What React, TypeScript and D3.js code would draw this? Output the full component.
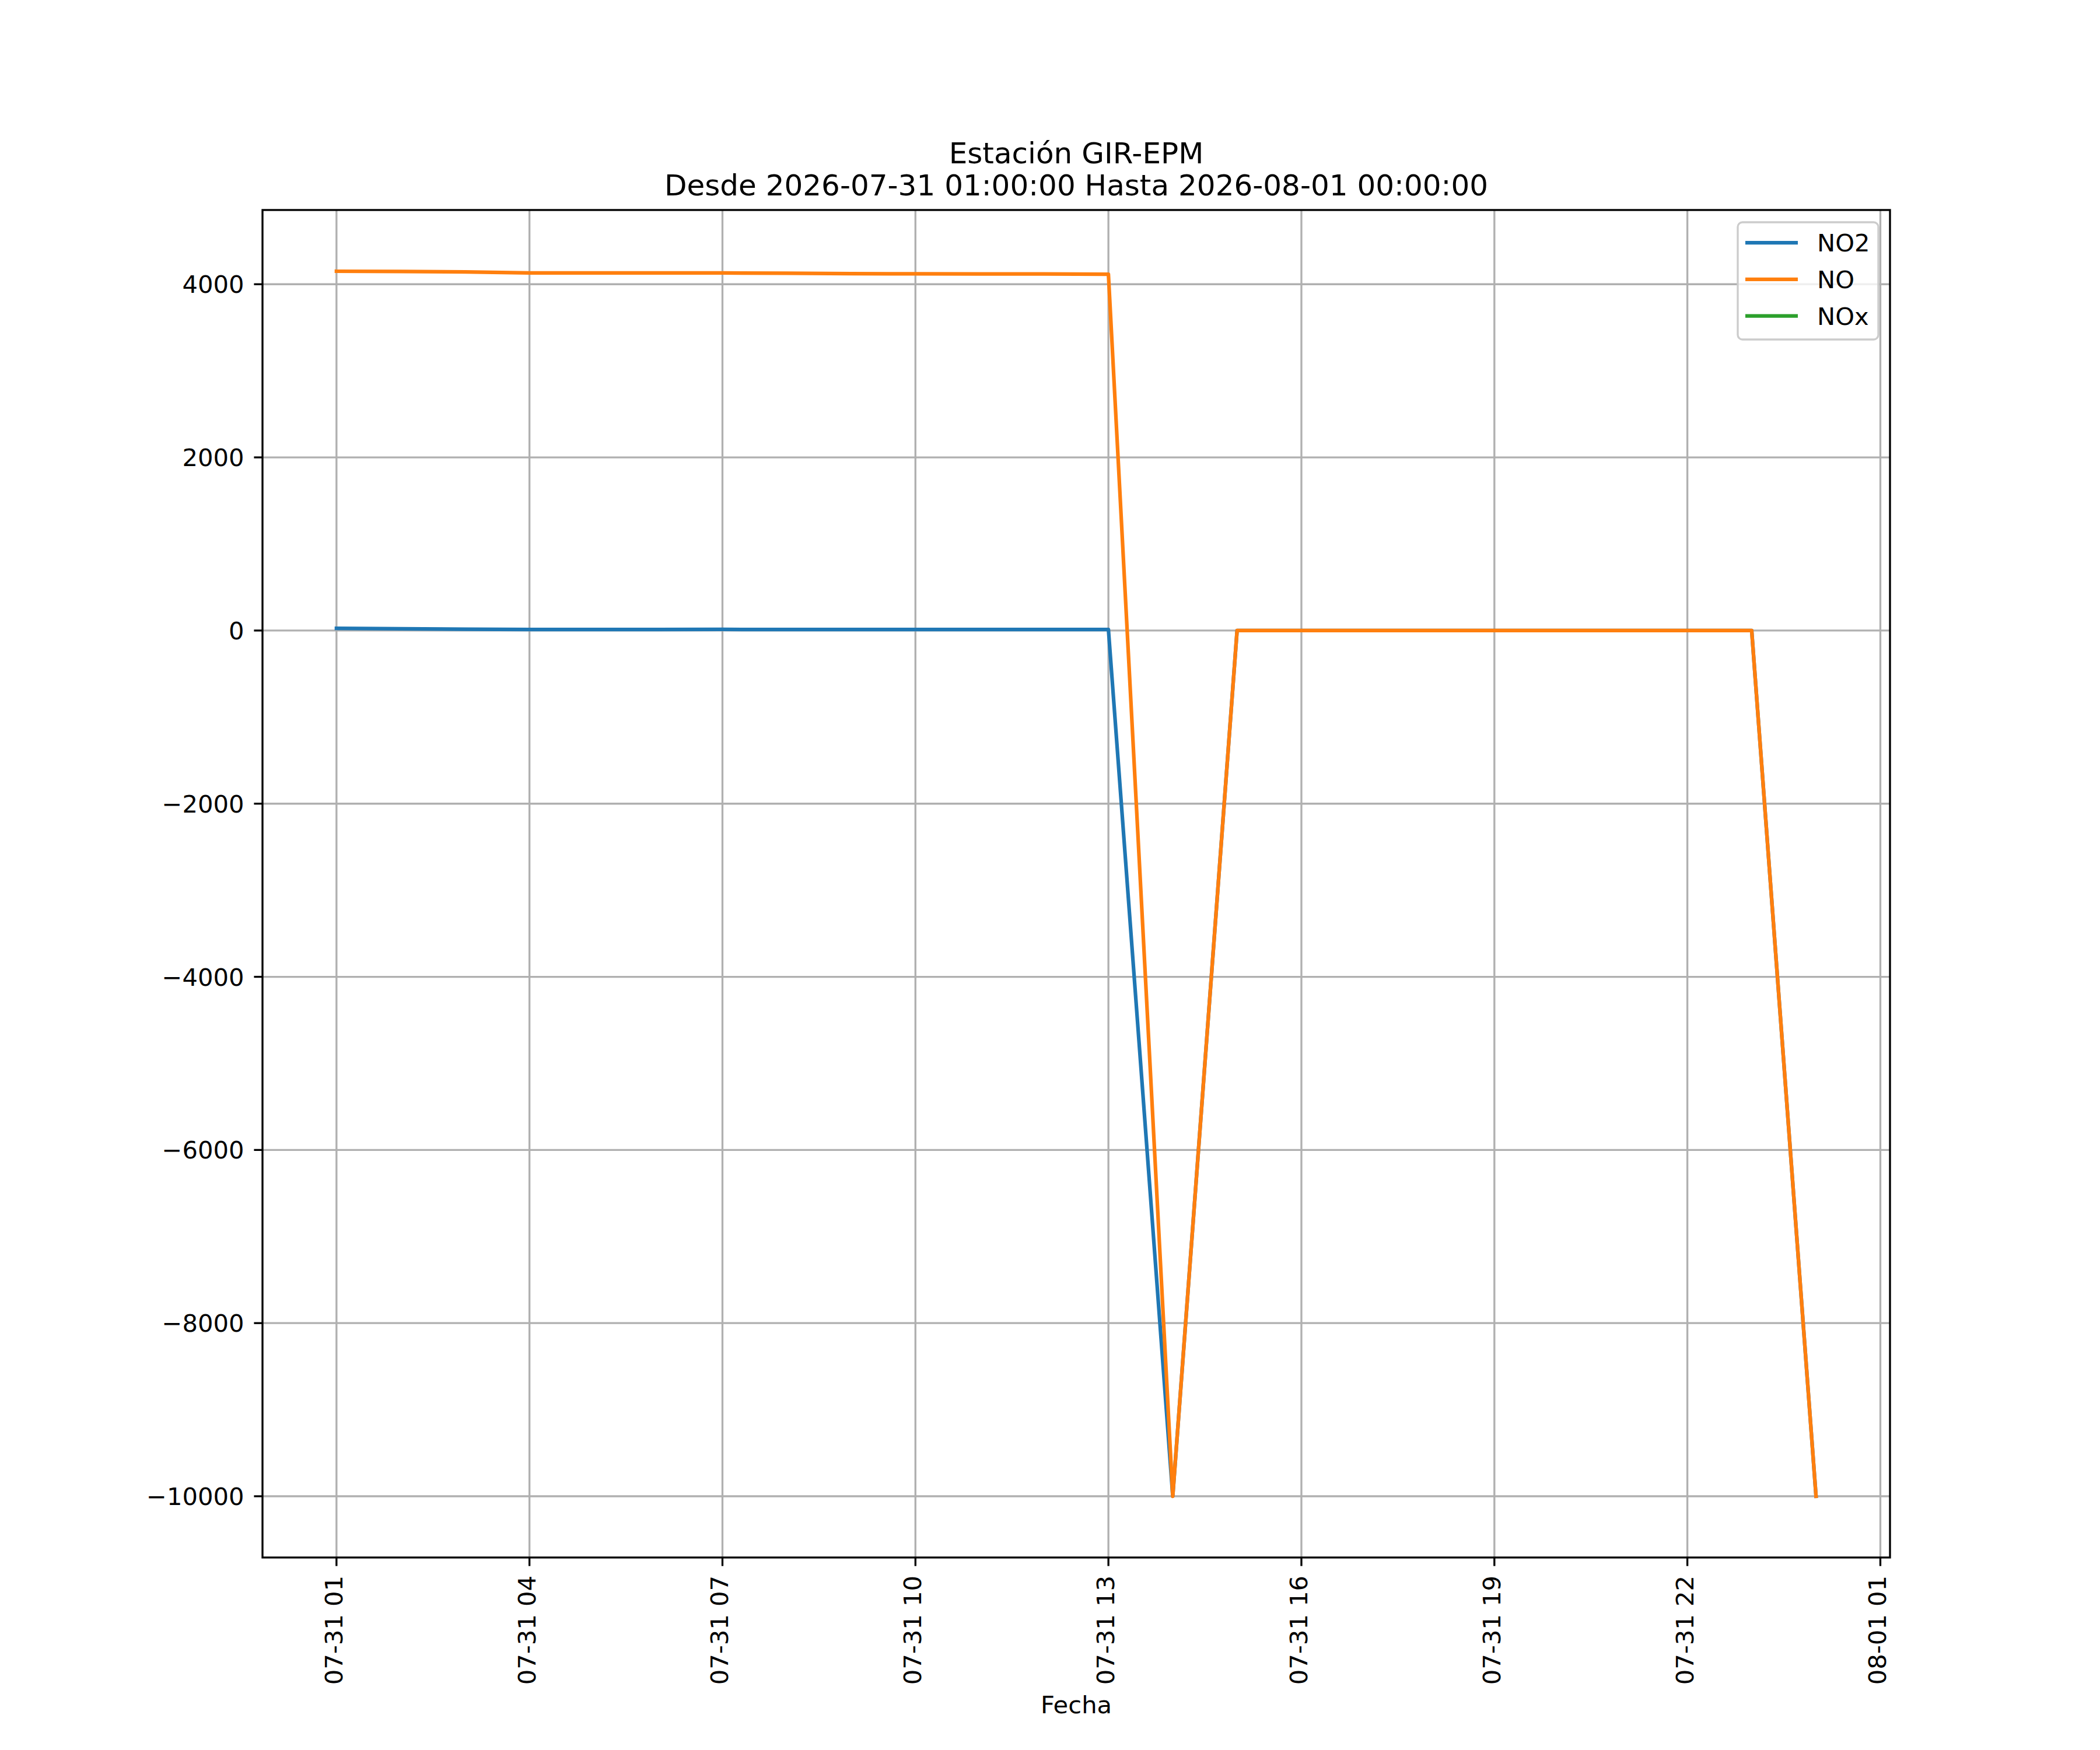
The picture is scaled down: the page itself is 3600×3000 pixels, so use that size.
import { useRef, useEffect } from 'react';
import * as d3 from 'd3';

// hourly readings, 2026-07-31 01:00 .. 2026-08-01 00:00 (UTC)
const times: string[] = [
  '2026-07-31T01:00:00Z', '2026-07-31T02:00:00Z', '2026-07-31T03:00:00Z', '2026-07-31T04:00:00Z',
  '2026-07-31T05:00:00Z', '2026-07-31T06:00:00Z', '2026-07-31T07:00:00Z', '2026-07-31T08:00:00Z',
  '2026-07-31T09:00:00Z', '2026-07-31T10:00:00Z', '2026-07-31T11:00:00Z', '2026-07-31T12:00:00Z',
  '2026-07-31T13:00:00Z', '2026-07-31T14:00:00Z', '2026-07-31T15:00:00Z', '2026-07-31T16:00:00Z',
  '2026-07-31T17:00:00Z', '2026-07-31T18:00:00Z', '2026-07-31T19:00:00Z', '2026-07-31T20:00:00Z',
  '2026-07-31T21:00:00Z', '2026-07-31T22:00:00Z', '2026-07-31T23:00:00Z', '2026-08-01T00:00:00Z',
];

const no2: (number | null)[] = [
  25, 20, 15, 12, 12, 12, 13, 12, 12, 12, 12, 12, 12,
  -10000, 0, 0, 0, 0, 0, 0, 0, 0, 0, -10000,
];

const no: (number | null)[] = [
  4150, 4148, 4142, 4130, 4130, 4131, 4130, 4128, 4123, 4120, 4119, 4118, 4115,
  -10000, 0, 0, 0, 0, 0, 0, 0, 0, 0, -10000,
];

// NOx has no valid readings in this period
const nox: (number | null)[] = times.map(() => null);

const seriesNames = ['NO2', 'NO', 'NOx'];
const seriesColors = ['#1f77b4', '#ff7f0e', '#2ca02c'];
const yTicks = [-10000, -8000, -6000, -4000, -2000, 0, 2000, 4000];

const title1 = 'Estación GIR-EPM';
const title2 = 'Desde 2026-07-31 01:00:00 Hasta 2026-08-01 00:00:00';
const xLabel = 'Fecha';

export default function App() {
  const svgRef = useRef<SVGSVGElement>(null);

  useEffect(() => {
    if (!svgRef.current) return;

    const width = 3600;
    const height = 3000;
    const margin = { top: 360, right: 360, bottom: 330, left: 450 };
    const font = 'DejaVu Sans';
    const fs = 41.67;
    const lw = 3.33;

    const svg = d3.select(svgRef.current)
      .attr('width', width)
      .attr('height', height);

    svg.selectAll('*').remove();

    svg.append('rect').attr('width', width).attr('height', height).attr('fill', 'white');

    const dates = times.map(t => new Date(t));
    const allSeries = [no2, no, nox];

    // matplotlib-like 5% autoscale margins
    const [t0, t1] = d3.extent(dates) as [Date, Date];
    const tPad = (+t1 - +t0) * 0.05;
    const vals = allSeries.flat().filter((v): v is number => v != null);
    const [v0, v1] = d3.extent(vals) as [number, number];
    const vPad = (v1 - v0) * 0.05;

    const x = d3.scaleUtc()
      .domain([new Date(+t0 - tPad), new Date(+t1 + tPad)])
      .range([margin.left, width - margin.right]);

    const y = d3.scaleLinear()
      .domain([v0 - vPad, v1 + vPad])
      .range([height - margin.bottom, margin.top]);

    const xTicks = d3.utcHours(t0, new Date(+t1 + 3600 * 1000 * 2), 3);
    const fmtX = d3.utcFormat('%m-%d %H');
    const fmtY = d3.format('d');

    const x0 = margin.left, x1 = width - margin.right;
    const y0 = margin.top, y1 = height - margin.bottom;

    // grid
    const grid = svg.append('g').attr('stroke', '#b0b0b0').attr('stroke-width', lw);
    grid.selectAll('line.gx').data(xTicks).join('line')
      .attr('x1', d => x(d)).attr('x2', d => x(d))
      .attr('y1', y0).attr('y2', y1);
    grid.selectAll('line.gy').data(yTicks).join('line')
      .attr('class', 'gy')
      .attr('x1', x0).attr('x2', x1)
      .attr('y1', d => y(d)).attr('y2', d => y(d));

    // lines
    const clipId = 'plot-clip';
    svg.append('clipPath').attr('id', clipId)
      .append('rect').attr('x', x0).attr('y', y0).attr('width', x1 - x0).attr('height', y1 - y0);

    const line = d3.line<number | null>()
      .defined(d => d != null)
      .x((_, i) => x(dates[i]))
      .y(d => y(d as number));

    allSeries.forEach((s, i) => {
      svg.append('path')
        .datum(s)
        .attr('clip-path', `url(#${clipId})`)
        .attr('fill', 'none')
        .attr('stroke', seriesColors[i])
        .attr('stroke-width', 6.25)
        .attr('stroke-linejoin', 'round')
        .attr('stroke-linecap', 'square')
        .attr('d', line);
    });

    // frame
    svg.append('rect')
      .attr('x', x0).attr('y', y0).attr('width', x1 - x0).attr('height', y1 - y0)
      .attr('fill', 'none').attr('stroke', 'black').attr('stroke-width', lw);

    // x ticks
    const gx = svg.append('g');
    gx.selectAll('line').data(xTicks).join('line')
      .attr('x1', d => x(d)).attr('x2', d => x(d))
      .attr('y1', y1).attr('y2', y1 + 14.6)
      .attr('stroke', 'black').attr('stroke-width', lw);
    gx.selectAll('text').data(xTicks).join('text')
      .attr('transform', d => `translate(${x(d) + 10},${y1 + 31}) rotate(-90)`)
      .attr('text-anchor', 'end')
      .attr('font-family', font).attr('font-size', fs)
      .text(d => fmtX(d));

    // y ticks
    const gy = svg.append('g');
    gy.selectAll('line').data(yTicks).join('line')
      .attr('x1', x0 - 14.6).attr('x2', x0)
      .attr('y1', d => y(d)).attr('y2', d => y(d))
      .attr('stroke', 'black').attr('stroke-width', lw);
    gy.selectAll('text').data(yTicks).join('text')
      .attr('x', x0 - 31.5)
      .attr('y', d => y(d) + 15)
      .attr('text-anchor', 'end')
      .attr('font-family', font).attr('font-size', fs)
      .text(d => fmtY(d));

    // titles
    const cx = (x0 + x1) / 2;
    svg.append('text').attr('x', cx).attr('y', 280)
      .attr('text-anchor', 'middle').attr('font-family', font).attr('font-size', 50)
      .text(title1);
    svg.append('text').attr('x', cx).attr('y', 335)
      .attr('text-anchor', 'middle').attr('font-family', font).attr('font-size', 50)
      .text(title2);
    svg.append('text').attr('x', cx).attr('y', 2937)
      .attr('text-anchor', 'middle').attr('font-family', font).attr('font-size', fs)
      .text(xLabel);

    // legend
    const lg = svg.append('g');
    lg.append('rect')
      .attr('x', 2979).attr('y', 381).attr('width', 241).attr('height', 201)
      .attr('rx', 8)
      .attr('fill', 'white').attr('fill-opacity', 0.8)
      .attr('stroke', '#cccccc').attr('stroke-width', lw);
    seriesNames.forEach((name, i) => {
      const ry = 416 + i * 62.8;
      lg.append('line')
        .attr('x1', 2992).attr('x2', 3082).attr('y1', ry).attr('y2', ry)
        .attr('stroke', seriesColors[i]).attr('stroke-width', 6.25);
      lg.append('text')
        .attr('x', 3115).attr('y', ry + 15)
        .attr('font-family', font).attr('font-size', fs)
        .text(name);
    });
  }, []);

  return (
    <div style={{ position: 'absolute', left: 0, top: 0 }}>
      <svg ref={svgRef} style={{ display: 'block' }}></svg>
    </div>
  );
}
